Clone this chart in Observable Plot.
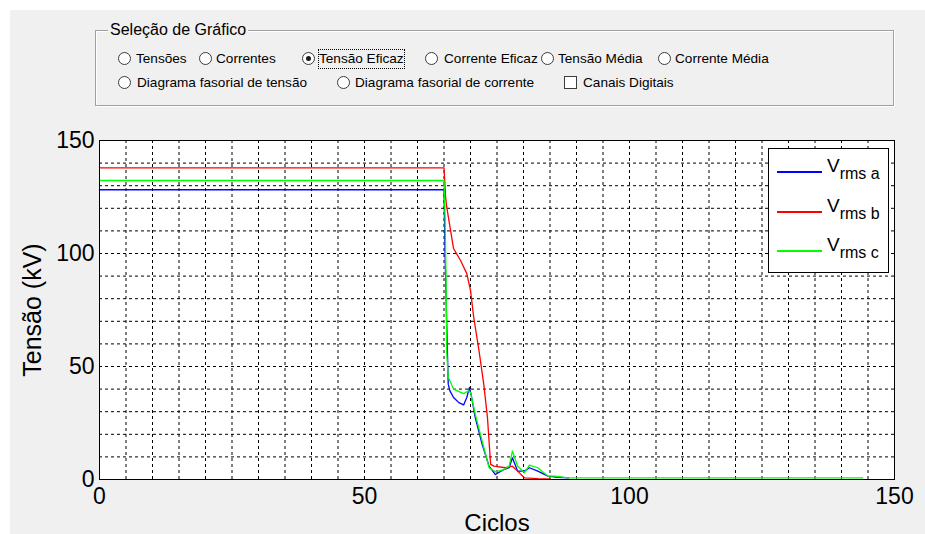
<!DOCTYPE html>
<html>
<head>
<meta charset="utf-8">
<script src="https://cdn.jsdelivr.net/npm/d3@7"></script>
<script src="https://cdn.jsdelivr.net/npm/@observablehq/plot@0.6"></script>
<style>
  body { margin: 0; background: #ffffff; }
  #wrap { position: relative; width: 925px; height: 534px; overflow: hidden; background: #ffffff; font-family: "Liberation Sans", Arial, sans-serif; }
  #bg { position: absolute; left: 10px; top: 10px; right: 0; bottom: 0; background: #f0f0f0; }
  #chart { position: absolute; left: 0; top: 0; }
  #group { position: absolute; left: 95px; top: 30px; width: 797px; height: 74px; border: 1px solid #a0a0a0; box-shadow: inset 1px 1px 0 #ffffff, 1px 1px 0 #ffffff; }
  #groupTitle { position: absolute; left: 12px; top: -11px; padding: 0 2px; background: #f0f0f0; font-size: 16px; line-height: 20px; color: #000; white-space: nowrap; }
  .radio { position: absolute; width: 13px; height: 13px; box-sizing: border-box; border: 1px solid #3c3c3c; border-radius: 50%; background: #ffffff; }
  .radio.on::after { content: ""; position: absolute; left: 3px; top: 3px; width: 5px; height: 5px; border-radius: 50%; background: #1a1a1a; }
  .check { position: absolute; width: 13px; height: 13px; box-sizing: border-box; border: 1px solid #3c3c3c; background: #ffffff; }
  .opt { position: absolute; font-size: 13.6px; line-height: 18px; color: #000; white-space: nowrap; }
  .focus { outline: 1px dotted #000; outline-offset: 0px; }
  #legend { position: absolute; left: 768px; top: 148px; width: 121px; height: 125px; box-sizing: border-box; border: 1px solid #000; background: #fff; }
  .lgline { position: absolute; left: 8px; width: 45px; height: 1.5px; }
  .lgtext { position: absolute; left: 58px; white-space: nowrap; color: #000; }
  .lgtext .V { font-size: 19px; }
  .lgtext sub { font-size: 16px; vertical-align: -7px; }
</style>
</head>
<body>
<div id="wrap">
  <div id="bg"></div>
  <div id="chart"></div>
  <div id="group">
    <span id="groupTitle">Seleção de Gráfico</span>
  </div>
  <!-- row 1 (centre y = 59) -->
  <span class="radio" style="left:118px;top:52px"></span><span class="opt" style="left:136px;top:50px">Tensões</span>
  <span class="radio" style="left:199px;top:52px"></span><span class="opt" style="left:216px;top:50px">Correntes</span>
  <span class="radio on" style="left:302px;top:52px"></span><span class="opt focus" style="left:319px;top:50px">Tensão Eficaz</span>
  <span class="radio" style="left:425px;top:52px"></span><span class="opt" style="left:444px;top:50px">Corrente Eficaz</span>
  <span class="radio" style="left:541px;top:52px"></span><span class="opt" style="left:558px;top:50px">Tensão Média</span>
  <span class="radio" style="left:658px;top:52px"></span><span class="opt" style="left:675px;top:50px">Corrente Média</span>
  <!-- row 2 (centre y = 83) -->
  <span class="radio" style="left:118px;top:76px"></span><span class="opt" style="left:137px;top:74px">Diagrama fasorial de tensão</span>
  <span class="radio" style="left:337px;top:76px"></span><span class="opt" style="left:355px;top:74px">Diagrama fasorial de corrente</span>
  <span class="check" style="left:564px;top:76px"></span><span class="opt" style="left:583px;top:74px">Canais Digitais</span>

  <div id="legend">
    <div class="lgline" style="top:22px;background:#0000ff"></div>
    <div class="lgtext" style="top:6px"><span class="V">V</span><sub>rms a</sub></div>
    <div class="lgline" style="top:62px;background:#ff0000"></div>
    <div class="lgtext" style="top:46px"><span class="V">V</span><sub>rms b</sub></div>
    <div class="lgline" style="top:101px;background:#00ff00"></div>
    <div class="lgtext" style="top:85px"><span class="V">V</span><sub>rms c</sub></div>
  </div>
</div>
<script>
// ---- data (Ciclos vs RMS voltage in kV) ----
const ciclosA = [0, 65, 65.2, 65.5, 65.8, 66.1, 66.8, 67.8, 68.7, 69.3, 69.8, 70.1, 70.9, 72.2, 73.5, 74.7, 76.3, 77.3, 77.9, 78.9, 80.2, 81.1, 82.7, 84.6, 86.5, 88.5];
const vrmsA   = [128.2, 128.2, 100, 70, 42.2, 39.3, 36.3, 34, 33, 36.3, 40.7, 37.8, 27.4, 15.6, 5.9, 2.2, 4.4, 5.2, 9.6, 3.7, 3.7, 5.2, 3.7, 1.5, 1.0, 0.7];

const ciclosB = [0, 65, 65.3, 65.5, 66.8, 68.1, 69.3, 70, 70.6, 71.6, 72.5, 73.2, 73.8, 74.4, 76.6, 77.9, 78.9, 80.2, 82.7, 85];
const vrmsB   = [137.9, 137.9, 125, 120.7, 102.2, 97, 91.1, 83.7, 71.9, 57, 42.2, 27.4, 6.7, 5.9, 5.2, 5.9, 3.7, 0.7, 0.4, 0.3];

const ciclosC = [0, 65, 65.2, 65.4, 65.5, 65.8, 66.8, 68.7, 69.6, 70, 70.9, 72.2, 73.5, 74.7, 76.3, 77.3, 77.9, 78.9, 80.2, 81.1, 82.7, 84.6, 85.9, 88.4, 144];
const vrmsC   = [132.3, 132.3, 116, 86.7, 57, 45.2, 40, 38, 39.3, 38.5, 28.9, 17, 5.2, 3.4, 4.4, 5.9, 12.6, 5.9, 3, 6.4, 5.2, 1.5, 1.5, 0.7, 0.7];

const xTicks = [0, 50, 100, 150];
const yTicks = [0, 50, 100, 150];
const xGrid = d3.range(5, 150, 5);
const yGrid = d3.range(10, 150, 10);

const serieA = ciclosA.map((c, i) => ({ciclo: c, v: vrmsA[i]}));
const serieB = ciclosB.map((c, i) => ({ciclo: c, v: vrmsB[i]}));
const serieC = ciclosC.map((c, i) => ({ciclo: c, v: vrmsC[i]}));

const gridStyle = {stroke: "#000", strokeOpacity: 1, strokeDasharray: "3,3", strokeWidth: 1};

const chart = Plot.plot({
  width: 925,
  height: 534,
  marginLeft: 99,
  marginRight: 31,
  marginTop: 140,
  marginBottom: 55,
  x: {domain: [0, 150]},
  y: {domain: [0, 150]},
  style: {background: "transparent", fontFamily: "'Liberation Sans', Arial, sans-serif", color: "#000", overflow: "visible"},
  marks: [
    Plot.frame({fill: "#ffffff", stroke: null}),
    Plot.gridX({ticks: xGrid, ...gridStyle}),
    Plot.gridY({ticks: yGrid, ...gridStyle}),
    Plot.line(serieA, {x: "ciclo", y: "v", stroke: "#0000ff", strokeWidth: 1.3}),
    Plot.line(serieB, {x: "ciclo", y: "v", stroke: "#ff0000", strokeWidth: 1.3}),
    Plot.line(serieC, {x: "ciclo", y: "v", stroke: "#00ff00", strokeWidth: 1.3}),
    Plot.frame({stroke: "#000", strokeWidth: 1}),
    Plot.axisX({ticks: xTicks, tickSize: 0, tickPadding: 8, fontSize: 23, label: null}),
    Plot.axisX({ticks: [], label: "Ciclos", labelAnchor: "center", labelArrow: "none", labelOffset: 51, fontSize: 24}),
    Plot.axisY({ticks: yTicks, tickSize: 0, tickPadding: 5, fontSize: 23, label: null}),
    Plot.axisY({ticks: [], label: "Tensão (kV)", labelAnchor: "center", labelArrow: "none", labelOffset: 76, fontSize: 25})
  ]
});
document.getElementById("chart").appendChild(chart);
</script>
</body>
</html>
